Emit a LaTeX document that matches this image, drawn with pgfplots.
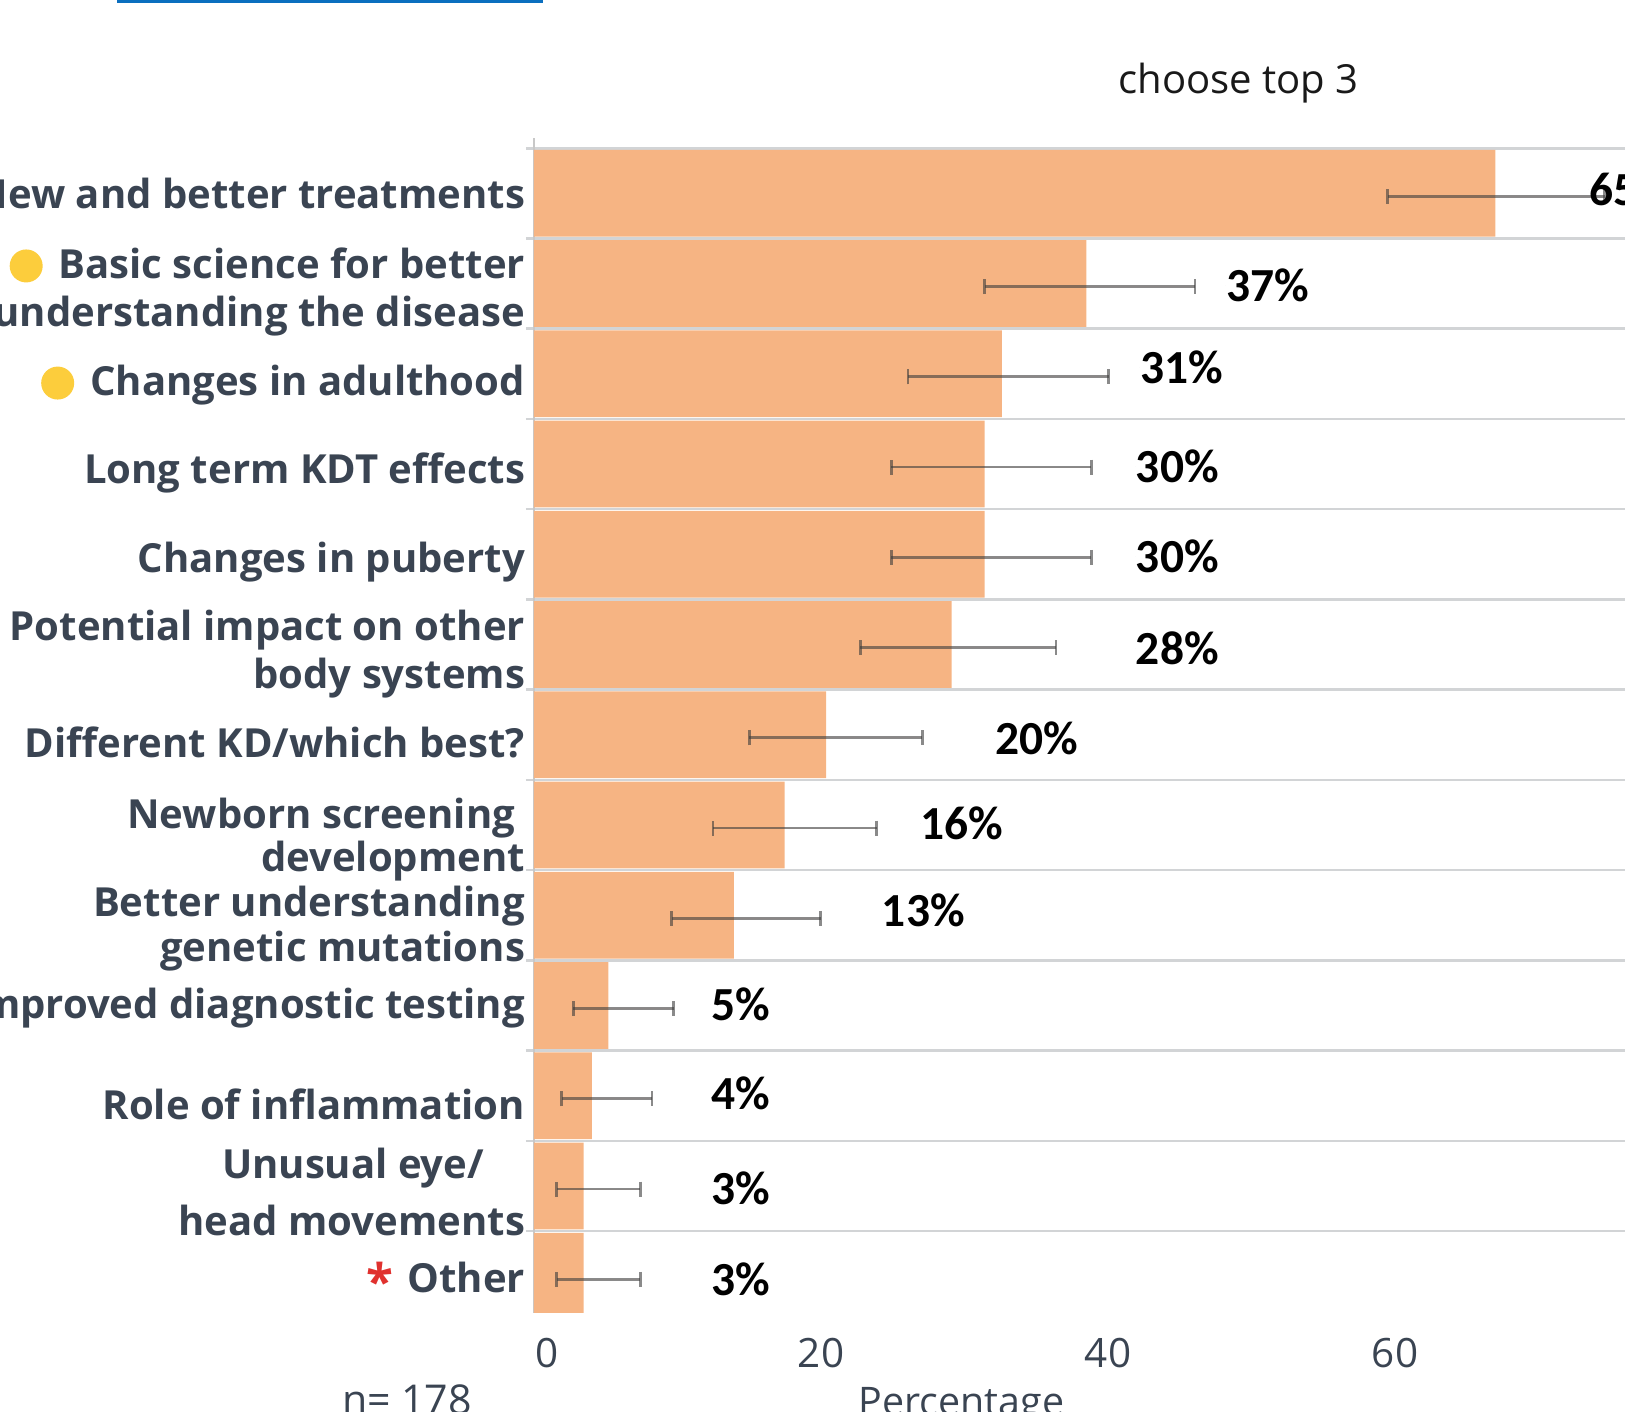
\documentclass[border=0pt]{standalone}
\usepackage{fontspec}
\setmainfont{Open Sans}
\newfontfamily\carlito{Carlito}
\usepackage{pgfplots}
\pgfplotsset{compat=1.18}
\usepackage{pgfplotstable}

\definecolor{barorange}{HTML}{F6B483}
\definecolor{slate}{HTML}{3A4452}
\definecolor{gridcol}{HTML}{D2D4D6}
\definecolor{axisgray}{HTML}{C8C8C8}
\definecolor{errcol}{HTML}{3C3C3C}
\definecolor{dotyellow}{HTML}{FCCD3C}
\definecolor{astred}{HTML}{E0312E}
\definecolor{topblue}{HTML}{0B6FBF}

\newcommand\ydot{\tikz[baseline={(0,-0.125cm)}]\fill[dotyellow] (0,0) circle (0.165cm);\hspace{0.16cm}}

% bar value, error below, error above (percent), top bar at pos 13
\pgfplotstableread{
pos v em ep
13 67.0 7.5 7.6
12 38.5 7.1 7.56
11 32.6 6.54 7.46
10 31.4 6.5 7.44
9 31.4 6.5 7.44
8 29.1 6.37 7.28
7 20.35 5.35 6.72
6 17.46 4.99 6.43
5 13.92 4.33 6.07
4 5.18 2.45 4.55
3 4.03 2.1 4.19
2 3.45 1.88 3.97
1 3.45 1.88 3.97
}\bars

% where the percentage labels sit
\pgfplotstableread{
lx ly p
73.5 13.04 65
48.2 11.98 37
42.2 11.07 31
41.9 9.97 30
41.9 8.98 30
41.9 7.96 28
32.1 6.96 20
26.9 6.02 16
24.2 5.06 13
12.3 4.01 5
12.3 3.03 4
12.3 1.97 3
12.3 0.97 3
}\pcts

\begin{document}
\begin{tikzpicture}
\useasboundingbox (0,0) rectangle (16.25,14.12);
\clip (0,0) rectangle (16.25,14.12);
\fill[topblue] (1.17,14.085) rectangle (5.43,14.2);
\node[anchor=base, font=\fontsize{11.4}{13}\selectfont, text=black!90] at (12.385,13.187) {choose top 3};
\begin{axis}[
  at={(5.34cm,0.99cm)}, anchor=south west,
  scale only axis, width=11.48cm, height=11.752cm,
  xmin=0, xmax=80, ymin=0.593, ymax=13.615,
  axis lines=left,
  x axis line style={draw=none},
  y axis line style={draw=axisgray, line width=0.022cm, -},
  tick align=outside,
  major tick length=0.08cm,
  xtick={0,20,40,60},
  xticklabels={\hspace*{0.26cm}0,20,40,60},
  xtick style={draw=none},
  xticklabel style={font=\fontsize{11.5}{13}\selectfont, text=slate, inner sep=0pt, anchor=north, yshift=-0.167cm},
  ytick={1.5,2.5,...,13.5},
  yticklabels={},
  ytick style={draw=gridcol, line width=0.027cm},
  ymajorgrids,
  major grid style={draw=gridcol, line width=0.027cm},
  extra y ticks={13,11.908,10.874,9.897,8.908,7.897,6.92,5.839,4.856,3.966,2.908,1.937,0.989},
  extra y tick labels={
    New and better treatments,
    {\ydot Basic science for better\\understanding the disease},
    {\ydot Changes in adulthood},
    Long term KDT effects,
    Changes in puberty,
    {Potential impact on other\\body systems},
    Different KD/which best?,
    {Newborn screening\hspace*{0.1cm}\\[-0.052cm]development},
    {Better understanding\\[-0.031cm]genetic mutations},
    Improved diagnostic testing,
    Role of inflammation,
    {Unusual eye/\hspace*{0.41cm}\\[0.093cm]head movements},
    {\raisebox{-0.07cm}[0pt][0pt]{\fontsize{14}{14}\selectfont\color{astred}*}\hspace{0.04cm} Other}
  },
  extra y tick style={grid=none, major tick length=0pt, tick style={draw=none}},
  yticklabel style={font=\bfseries\fontsize{11.4}{13.6}\selectfont, text=slate, align=right, anchor=east, inner sep=0pt, xshift=-0.083cm},
  /pgf/number format/assume math mode=true,
  xlabel={Percentage},
  xlabel style={at={(axis description cs:0.3724,-0.0868)}, anchor=base, font=\fontsize{11.2}{13}\selectfont, text=slate, inner sep=0pt},
]
\addplot[xbar, bar width=0.96, fill=barorange, draw=none,
  error bars/.cd, x dir=both, x explicit, error mark=|,
  error bar style={draw=errcol, line width=0.028cm, opacity=0.6, yshift=-0.03cm},
  error mark options={draw=errcol, line width=0.028cm, mark size=0.075cm, opacity=0.6, yshift=-0.03cm}]
  table[x=v, y=pos, x error plus=ep, x error minus=em] {\bars};
\addplot[only marks, mark=*, mark size=0pt, mark options={draw=none, fill=none},
  point meta=explicit, nodes near coords={\pgfmathprintnumber{\pgfplotspointmeta}\%},
  nodes near coords align=horizontal,
  every node near coord/.append style={anchor=west, inner sep=0pt, font=\carlito\bfseries\fontsize{13.5}{13.5}\selectfont, text=black}]
  table[x=lx, y=ly, meta=p] {\pcts};
\end{axis}
\node[anchor=base, font=\fontsize{11.7}{13}\selectfont, text=slate] at (4.07,-0.03) {n= 178};
\end{tikzpicture}
\end{document}
